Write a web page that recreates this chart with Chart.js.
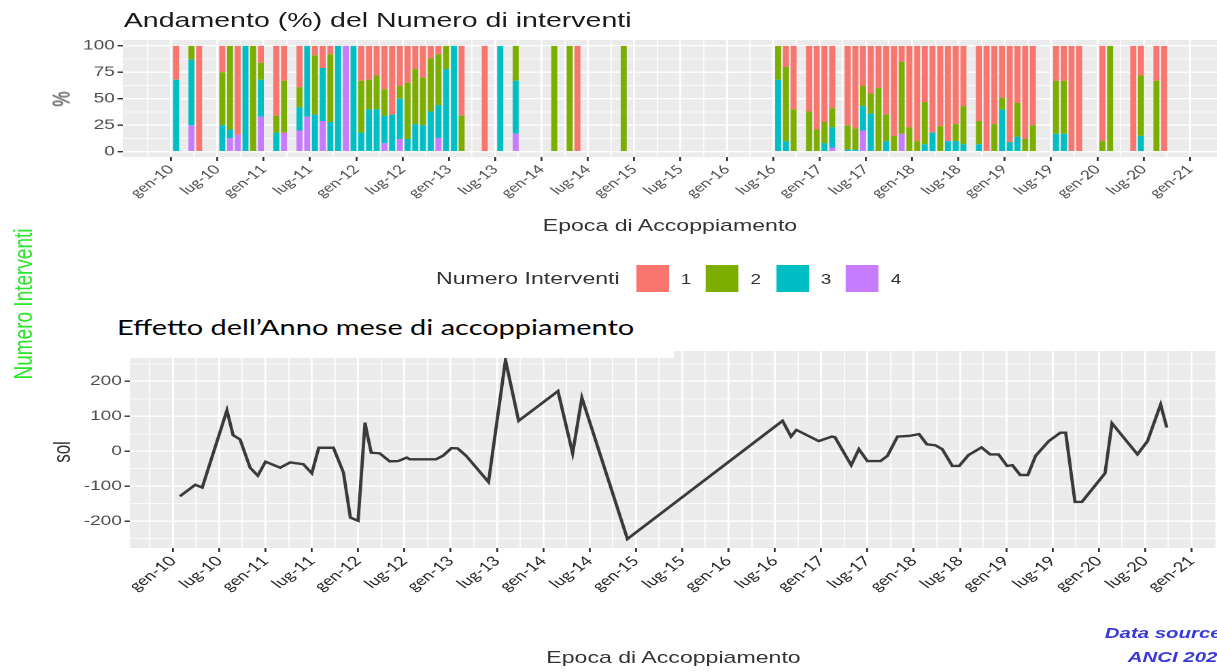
<!DOCTYPE html>
<html lang="it">
<head>
<meta charset="utf-8">
<title>Numero interventi ed effetto dell'anno mese</title>
<script src="https://cdn.jsdelivr.net/npm/chart.js@4.4.1/dist/chart.umd.min.js"></script>
<style>
    html, body { margin: 0; padding: 0; background: #fff; }
    body { width: 1217px; height: 672px; overflow: hidden; position: relative; }
    /* tutta la tavola è allargata in orizzontale come nell'immagine originale */
    #tavola {
        position: absolute; left: 0; top: 0; width: 895px; height: 672px;
        transform: scaleX(1.3598); transform-origin: 0 0;
        font-family: 'Liberation Sans', Arial, sans-serif;
    }
    .riquadro { position: absolute; }
    .testo { position: absolute; white-space: nowrap; line-height: 1; }
    .verticale { transform: translate(-50%, -50%) rotate(-90deg); }
    #coperta { position: absolute; left: 86px; top: 300px; width: 409px; height: 57.5px; background: #fff; }
    .chiave { position: absolute; top: 265px; width: 24px; height: 27px; }
    .voce { position: absolute; top: 272px; font-size: 14px; color: #333; line-height: 1; }
</style>
</head>
<body>
<div id="tavola">
    <div class="riquadro" style="left:0;top:0;width:895px;height:205px;"><canvas id="graficoQuote"></canvas></div>
    <div class="riquadro" style="left:0;top:330px;width:895px;height:342px;"><canvas id="graficoSol"></canvas></div>

    <div class="testo" style="left:91px;top:9px;font-size:21px;color:#1a1a1a;">Andamento (%) del Numero di interventi</div>
    <div class="testo verticale" style="left:45.6px;top:99px;font-size:17px;color:#333;">%</div>
    <div class="testo" style="left:90.4px;width:804.6px;text-align:center;top:217px;font-size:17px;color:#333;">Epoca di Accoppiamento</div>

    <div id="legenda">
        <div class="testo" style="left:320.6px;top:270px;font-size:17px;color:#333;">Numero Interventi</div>
    </div>

    <div class="testo verticale" style="left:17px;top:304px;font-size:19px;color:#2be52b;">Numero Interventi</div>

    <div id="coperta"></div>
    <div class="testo" style="left:86px;top:317px;font-size:21.3px;color:#000;font-family:Lato, 'Noto Sans', sans-serif;">Effetto dell’Anno mese di accoppiamento</div>

    <div class="testo verticale" style="left:45.6px;top:452px;font-size:17px;color:#333;">sol</div>
    <div class="testo" style="left:95.6px;width:799.4px;text-align:center;top:649px;font-size:17px;color:#333;">Epoca di Accoppiamento</div>

    <div class="testo" style="left:812.5px;top:625px;font-size:15px;color:#3a3ad8;font-weight:bold;font-style:italic;">Data source</div>
    <div class="testo" style="left:829.4px;top:649px;font-size:15px;color:#3a3ad8;font-weight:bold;font-style:italic;">ANCI 202</div>
</div>

<script>
(function () {
    'use strict';

    // Etichette dell'asse dei tempi, una ogni 6 mesi a partire da gen-10 (mese 0)
    var etichetteMesi = ['gen-10', 'lug-10', 'gen-11', 'lug-11', 'gen-12', 'lug-12', 'gen-13', 'lug-13',
        'gen-14', 'lug-14', 'gen-15', 'lug-15', 'gen-16', 'lug-16', 'gen-17', 'lug-17', 'gen-18', 'lug-18',
        'gen-19', 'lug-19', 'gen-20', 'lug-20', 'gen-21'];

    // Mesi (0 = gen-10) con almeno un accoppiamento
    var mesiBarre = [0, 2, 3, 6, 7, 8, 9, 10, 11, 13, 14, 16, 17, 18, 19, 20, 21, 22, 23, 24, 25, 26, 27, 28, 29,
        30, 31, 32, 33, 34, 35, 36, 37, 40, 42, 44, 49, 51, 52, 58, 78, 79, 80, 82, 83, 84, 85, 87, 88, 89, 90,
        91, 92, 93, 94, 95, 96, 97, 98, 99, 100, 101, 102, 104, 105, 106, 107, 108, 109, 110, 111, 114, 115,
        116, 117, 120, 121, 124, 125, 127, 128];

    // Quota (%) per numero di interventi
    var quota1 = [32, 0, 100, 25, 0, 84, 0, 0, 16, 66, 33, 39, 0, 9, 21, 8, 0, 0, 0, 33, 32, 28, 41, 65, 38,
        35, 22, 30, 12, 8, 0, 0, 66, 100, 0, 0, 0, 0, 100, 0, 0, 20, 60, 62, 79, 72, 59, 75, 78, 38, 45, 40,
        65, 85, 15, 77, 90, 53, 82, 76, 90, 74, 57, 71, 100, 74, 49, 91, 54, 88, 75, 33, 33, 100, 100, 90, 0,
        100, 28, 33, 100];
    var quota2 = [0, 13, 0, 50, 79, 0, 0, 100, 16, 16, 49, 19, 0, 56, 0, 64, 0, 0, 0, 49, 28, 32, 25, 0, 12,
        53, 52, 45, 50, 48, 22, 0, 34, 0, 0, 33, 100, 100, 0, 100, 32, 70, 40, 38, 21, 20, 18, 23, 20, 19, 19,
        60, 25, 15, 68, 23, 10, 40, 0, 24, 0, 16, 36, 22, 0, 26, 11, 0, 32, 12, 25, 50, 50, 0, 0, 10, 100, 0,
        57, 67, 0];
    var quota3 = [68, 62, 0, 25, 8, 0, 100, 0, 35, 18, 0, 22, 67, 35, 50, 28, 100, 0, 100, 18, 40, 40, 26, 35,
        38, 12, 26, 25, 38, 31, 78, 100, 0, 0, 100, 50, 0, 0, 0, 0, 68, 10, 0, 0, 0, 8, 19, 2, 2, 23, 36, 0,
        10, 0, 0, 0, 0, 7, 18, 0, 10, 10, 7, 7, 0, 0, 40, 9, 14, 0, 0, 17, 17, 0, 0, 0, 0, 0, 15, 0, 0];
    var quota4 = [0, 25, 0, 0, 13, 16, 0, 0, 33, 0, 18, 20, 33, 0, 29, 0, 0, 100, 0, 0, 0, 0, 8, 0, 12, 0, 0,
        0, 0, 13, 0, 0, 0, 0, 0, 17, 0, 0, 0, 0, 0, 0, 0, 0, 0, 0, 4, 0, 0, 20, 0, 0, 0, 0, 17, 0, 0, 0, 0, 0,
        0, 0, 0, 0, 0, 0, 0, 0, 0, 0, 0, 0, 0, 0, 0, 0, 0, 0, 0, 0, 0];

    var mesiSol = [0.9, 2.9, 3.8, 7.0, 7.8, 8.7, 10.0, 11.0, 12.0, 13.9, 15.2, 16.9, 18.0, 18.9, 20.8, 22.1,
        23.0, 24.0, 24.9, 25.1, 25.7, 26.8, 28.1, 29.2, 30.3, 30.7, 34.1, 35.0, 36.1, 36.9, 38.0, 40.9, 43.1,
        44.8, 49.9, 51.8, 53.0, 58.9, 79.0, 80.1, 80.8, 83.7, 85.4, 85.8, 87.9, 88.9, 90.0, 91.7, 92.6, 93.9,
        95.4, 96.7, 97.7, 98.8, 99.7, 101.0, 101.9, 103.1, 104.8, 105.9, 107.0, 108.1, 108.8, 109.8, 110.8,
        111.8, 113.5, 115.0, 115.7, 116.9, 117.8, 120.8, 121.7, 125.0, 126.3, 128.0, 128.8];
    var valoriSol = [-129, -96, -104, 117, 46, 34, -47, -70, -30, -47, -32, -37, -63, 10, 10, -61, -190, -199,
        82, 58, -4, -6, -29, -28, -18, -23, -23, -13, 9, 8, -13, -88, 261, 87, 172, -6, 153, -251, 87, 42, 61,
        29, 42, 40, -40, 6, -28, -28, -13, 42, 44, 49, 20, 17, 6, -42, -42, -11, 11, -9, -9, -42, -40, -68,
        -68, -13, 29, 53, 53, -145, -145, -63, 80, -9, 29, 134, 68];

    var COLORI = { '1': '#F8766D', '2': '#7CAE00', '3': '#00BFC4', '4': '#C77CFF' };
    var SPOSTAMENTO_BARRE = 0.65; // le barre cadono verso fine mese rispetto alla tacca

    var mesiGriglia = [];
    for (var g = -3; g <= 132; g += 3) mesiGriglia.push(g);

    var sfondoPannello = {
        id: 'sfondoPannello',
        beforeDraw: function (chart) {
            var a = chart.chartArea;
            chart.ctx.save();
            chart.ctx.fillStyle = '#EBEBEB';
            chart.ctx.fillRect(a.left, a.top, a.right - a.left, a.bottom - a.top);
            chart.ctx.restore();
        }
    };

    function principale(v, passo) { return Math.abs(v % passo) < 1e-9; }

    /// Asse x dei tempi con griglia ogni 3 mesi ed etichette ogni 6.
    function assexTempi(min, max, altezza, colore, dimensione) {
        return {
            type: 'linear', min: min, max: max, offset: false,
            afterBuildTicks: function (sc) { sc.ticks = mesiGriglia.map(function (v) { return { value: v }; }); },
            afterFit: function (sc) { sc.height = altezza; },
            grid: {
                offset: false, color: '#ffffff', tickLength: 4,
                lineWidth: function (c) { return c.tick && principale(c.tick.value, 6) ? 1.4 : 0.8; },
                tickColor: function (c) { return c.tick && principale(c.tick.value, 6) ? '#333333' : 'rgba(0,0,0,0)'; }
            },
            border: { display: false },
            ticks: {
                autoSkip: false, minRotation: 45, maxRotation: 45, padding: 1,
                color: colore, font: { family: 'Lato', size: dimensione },
                callback: function (v) { return principale(v, 6) ? etichetteMesi[v / 6] : ''; }
            }
        };
    }

    /// Asse y con griglia secondaria a metà passo.
    function asseyValori(min, max, larghezza, passo, valoriGriglia) {
        return {
            min: min, max: max,
            afterBuildTicks: function (sc) { sc.ticks = valoriGriglia.map(function (v) { return { value: v }; }); },
            afterFit: function (sc) { sc.width = larghezza; },
            grid: {
                color: '#ffffff', tickLength: 4,
                lineWidth: function (c) { return c.tick && principale(c.tick.value, passo) ? 1.4 : 0.8; },
                tickColor: function (c) { return c.tick && principale(c.tick.value, passo) ? '#333333' : 'rgba(0,0,0,0)'; }
            },
            border: { display: false },
            ticks: {
                autoSkip: false, padding: 2, color: '#4D4D4D', font: { family: 'Liberation Sans', size: 14 },
                callback: function (v) { return principale(v, passo) ? String(v) : ''; }
            }
        };
    }

    var serie = [
        { etichetta: '4', valori: quota4 },
        { etichetta: '3', valori: quota3 },
        { etichetta: '2', valori: quota2 },
        { etichetta: '1', valori: quota1 }
    ];

    var grigliaQuote = [];
    for (var q = 0; q <= 100; q += 12.5) grigliaQuote.push(q);
    var grigliaSol = [];
    for (var w = -250; w <= 250; w += 50) grigliaSol.push(w);

    var assexQuote = assexTempi(-6.22, 135.5, 48, '#4D4D4D', 12.5);
    assexQuote.stacked = true;
    var asseyQuote = asseyValori(-5, 105.5, 90.4, 25, grigliaQuote);
    asseyQuote.stacked = true;

    new Chart(document.getElementById('graficoQuote'), {
        type: 'bar',
        data: {
            datasets: serie.map(function (s) {
                return {
                    label: s.etichetta,
                    data: mesiBarre.map(function (m, i) { return { x: m + SPOSTAMENTO_BARRE, y: s.valori[i] }; }),
                    backgroundColor: COLORI[s.etichetta],
                    borderWidth: 0,
                    barPercentage: 0.97,
                    categoryPercentage: 0.8
                };
            })
        },
        options: {
            responsive: true, maintainAspectRatio: false, animation: false, devicePixelRatio: 2,
            layout: { padding: { top: 40, left: 0, right: 0, bottom: 0 } },
            plugins: { legend: { display: false }, tooltip: { enabled: false } },
            scales: { x: assexQuote, y: asseyQuote }
        },
        plugins: [sfondoPannello]
    });

    new Chart(document.getElementById('graficoSol'), {
        type: 'line',
        data: {
            datasets: [{
                label: 'sol',
                data: mesiSol.map(function (m, i) { return { x: m, y: valoriSol[i] }; }),
                borderColor: '#3a3a3a',
                borderWidth: 2.4,
                pointRadius: 0,
                tension: 0,
                fill: false
            }]
        },
        options: {
            responsive: true, maintainAspectRatio: false, animation: false, devicePixelRatio: 2,
            layout: { padding: { top: 21, left: 0, right: 0, bottom: 0 } },
            plugins: { legend: { display: false }, tooltip: { enabled: false } },
            scales: {
                x: assexTempi(-5.56, 135.1, 124, '#222222', 13.5),
                y: asseyValori(-277, 287, 95.6, 100, grigliaSol)
            }
        },
        plugins: [sfondoPannello]
    });

    // Legenda in stile ggplot: chiavi quadrate e numero a destra
    var legenda = document.getElementById('legenda');
    var sinistreChiavi = [467.6, 519, 570.6, 622];
    ['1', '2', '3', '4'].forEach(function (n, i) {
        var chiave = document.createElement('div');
        chiave.className = 'chiave';
        chiave.style.left = sinistreChiavi[i] + 'px';
        chiave.style.background = COLORI[n];
        legenda.appendChild(chiave);
        var voce = document.createElement('div');
        voce.className = 'voce';
        voce.style.left = (sinistreChiavi[i] + 33) + 'px';
        voce.textContent = n;
        legenda.appendChild(voce);
    });
})();
</script>
</body>
</html>
